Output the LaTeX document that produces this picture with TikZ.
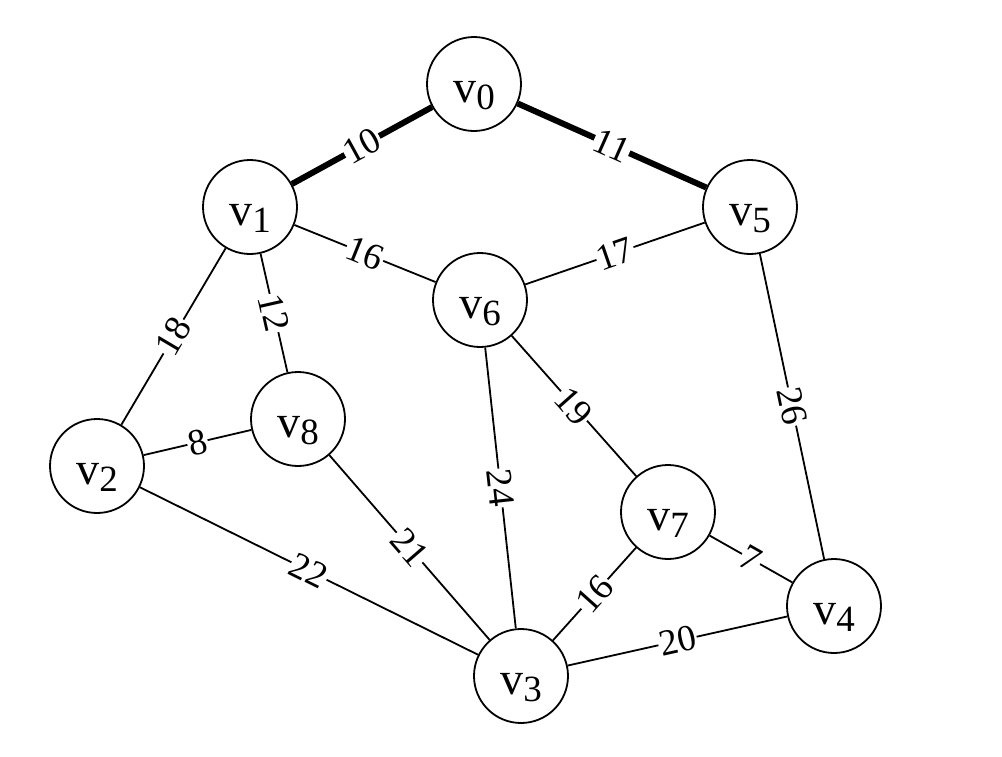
\documentclass[tikz,border=0pt]{standalone}
\usepackage{fontspec}
\setmainfont{Liberation Serif}
\newcommand\vlab[1]{v\raisebox{-7pt}{\fontsize{37}{37}\selectfont #1}}
\begin{document}
\begin{tikzpicture}[x=1pt,y=-1pt,
  vert/.style={circle,draw,line width=1.8pt,minimum size=94pt,inner sep=0pt,
    font=\fontsize{46}{46}\selectfont,text height=36pt,text depth=0pt},
  edge/.style={line width=1.8pt},
  heavy/.style={line width=6pt},
  lbl/.style={midway,sloped,fill=white,inner sep=1pt,font=\fontsize{37}{37}\selectfont}]
\useasboundingbox (0,0) rectangle (1002,756);
\node[vert] (v0) at (474,84) {\vlab{0}};
\node[vert] (v1) at (250,207) {\vlab{1}};
\node[vert] (v5) at (750,207) {\vlab{5}};
\node[vert] (v6) at (480,300) {\vlab{6}};
\node[vert] (v8) at (298,419) {\vlab{8}};
\node[vert] (v2) at (97,466) {\vlab{2}};
\node[vert] (v7) at (668,512) {\vlab{7}};
\node[vert] (v4) at (834,606) {\vlab{4}};
\node[vert] (v3) at (521,676) {\vlab{3}};
\draw[heavy] (v1) -- node[lbl] {10} (v0);
\draw[heavy] (v0) -- node[lbl] {11} (v5);
\draw[edge] (v1) -- node[lbl] {16} (v6);
\draw[edge] (v6) -- node[lbl] {17} (v5);
\draw[edge] (v2) -- node[lbl] {18} (v1);
\draw[edge] (v1) -- node[lbl] {12} (v8);
\draw[edge] (v2) -- node[lbl] {8} (v8);
\draw[edge] (v2) -- node[lbl] {22} (v3);
\draw[edge] (v8) -- node[lbl] {21} (v3);
\draw[edge] (v6) -- node[lbl] {24} (v3);
\draw[edge] (v6) -- node[lbl] {19} (v7);
\draw[edge] (v5) -- node[lbl] {26} (v4);
\draw[edge] (v7) -- node[lbl] {7} (v4);
\draw[edge] (v3) -- node[lbl] {16} (v7);
\draw[edge] (v3) -- node[lbl] {20} (v4);
\end{tikzpicture}
\end{document}
